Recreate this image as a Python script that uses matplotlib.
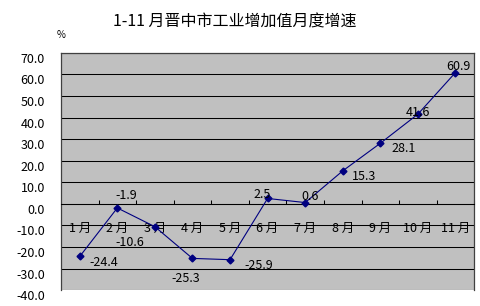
import matplotlib
matplotlib.use('Agg')
import matplotlib.pyplot as plt
from matplotlib.transforms import ScaledTranslation

plt.rcParams['font.family'] = ['Noto Sans CJK SC', 'DejaVu Sans']
plt.rcParams['axes.unicode_minus'] = False

# Данные
months = ['1 月', '2 月', '3 月', '4 月', '5 月', '6 月', '7 月', '8 月', '9 月', '10 月', '11 月']
growth = [-24.4, -1.9, -10.6, -25.3, -25.9, 2.5, 0.6, 15.3, 28.1, 41.6, 60.9]
y_ticks = [-40, -30, -20, -10, 0, 10, 20, 30, 40, 50, 60, 70]

# смещения подписей (пиксели)
label_offsets = [(24, -6), (9, 12), (-25, -16), (-7, -20), (29, -6),
                 (-5, 4), (5, 6), (21, -6), (23, -5), (0, 2), (3, 6)]

fig = plt.figure(figsize=(4.8, 3.06), dpi=100)
ax = fig.add_axes([0.127, 0.052, 0.861, 0.775])
ax.set_facecolor('#C0C0C0')

x = list(range(len(months)))
ax.plot(x, growth, color='#000080', lw=0.8, marker='D', ms=3.5, zorder=3)

for xi, v, (dx, dy) in zip(x, growth, label_offsets):
    ax.annotate(f'{v:.1f}', (xi, v), textcoords='offset pixels', xytext=(dx, dy),
                ha='center', va='center', fontsize=9, color='black', zorder=4)

ax.set_xlim(-0.5, len(months) - 0.5)
ax.set_ylim(-40, 70)
ax.set_yticks(y_ticks)
ax.set_yticklabels([f'{t:.1f}' for t in y_ticks], fontsize=9)
ax.yaxis.grid(True, color='black', lw=0.75)
ax.set_axisbelow(True)
ax.tick_params(axis='y', length=0, pad=11.5)

# подписи оси Y чуть ниже линий, как в Excel
shift = ScaledTranslation(0, -0.05, fig.dpi_scale_trans)
for lab in ax.get_yticklabels():
    lab.set_transform(lab.get_transform() + shift)

ax.spines['bottom'].set_position(('data', 0))
ax.spines['bottom'].set_color('black')
ax.spines['bottom'].set_linewidth(0.75)
for s in ['left', 'right', 'top']:
    ax.spines[s].set_color('#404040')
    ax.spines[s].set_linewidth(0.9)
ax.set_xticks(x)
ax.set_xticklabels(months, fontsize=9)
ax.set_xticks([i + 0.5 for i in x], minor=True)
ax.tick_params(axis='x', which='major', length=0, pad=13)
ax.tick_params(axis='x', which='minor', length=3, width=0.75, direction='in')

fig.text(0.49, 0.928, '1-11 月晋中市工业增加值月度增速', ha='center', va='center', fontsize=11.5)
fig.text(0.128, 0.886, '%', ha='center', va='center', fontsize=7)

fig.savefig('out.png', dpi=100)
